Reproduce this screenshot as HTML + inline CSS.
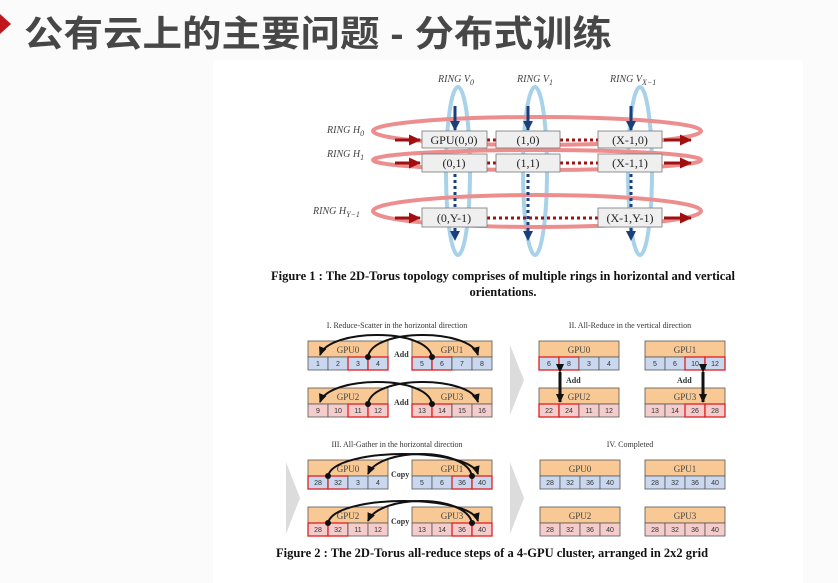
<!DOCTYPE html>
<html><head><meta charset="utf-8"><style>
html,body{margin:0;padding:0;background:#fff;width:838px;height:583px;overflow:hidden}
svg{display:block}
.t{font-family:"Liberation Sans","Noto Sans CJK SC",sans-serif;font-weight:bold;font-size:36px;fill:#474747}
.lab{font-family:"Liberation Serif",serif;font-style:italic;font-size:10px;fill:#444}
.bx{font-family:"Liberation Serif",serif;font-size:12px;fill:#222}
.cap{font-family:"Liberation Serif",serif;font-weight:bold;font-size:12.5px;fill:#111}
.sm{font-family:"Liberation Serif",serif;font-size:8px;fill:#333}
.g{font-family:"Liberation Serif",serif;font-size:9px;fill:#444}
.c{font-family:"Liberation Sans",sans-serif;font-size:7px;fill:#333}
</style></head><body>
<svg width="838" height="583" viewBox="0 0 838 583" xmlns="http://www.w3.org/2000/svg">
<defs>
<marker id="ar" markerUnits="userSpaceOnUse" markerWidth="14" markerHeight="14" refX="11" refY="7" orient="auto"><path d="M0,1.5 L12,7 L0,12.5z" fill="#a01010"/></marker>
<marker id="ab" markerUnits="userSpaceOnUse" markerWidth="12" markerHeight="12" refX="9" refY="6" orient="auto"><path d="M0,1 L10,6 L0,11z" fill="#1a3f7a"/></marker>
<marker id="ak" markerUnits="userSpaceOnUse" markerWidth="10" markerHeight="10" refX="8" refY="5" orient="auto"><path d="M0,1 L9,5 L0,9z" fill="#111"/></marker>
</defs>
<rect x="0" y="0" width="838" height="583" fill="#fbfbfb"/>
<rect x="213" y="60" width="590" height="523" fill="#fff"/>
<path d="M0,14 L11,24 L0,34z" fill="#c0161c"/>
<text class="t" x="24" y="46" textLength="588" lengthAdjust="spacingAndGlyphs">公有云上的主要问题 - 分布式训练</text>

<g fill="none" stroke="#a8d2ea" stroke-width="4">
<ellipse cx="458" cy="171" rx="12" ry="84"/>
<ellipse cx="535" cy="171" rx="12" ry="84"/>
<ellipse cx="640" cy="171" rx="12" ry="84"/>
</g>
<g fill="none" stroke="#ec8e8e" stroke-width="4">
<ellipse cx="537" cy="131" rx="164" ry="14"/>
<ellipse cx="537" cy="160" rx="164" ry="10"/>
<ellipse cx="537" cy="211" rx="164" ry="16"/>
</g>
<g stroke="#1a3f7a" stroke-width="3">
<line x1="455" y1="106" x2="455" y2="130" marker-end="url(#ab)"/>
<line x1="528" y1="106" x2="528" y2="130" marker-end="url(#ab)"/>
<line x1="631" y1="106" x2="631" y2="130" marker-end="url(#ab)"/>
<line x1="455" y1="174" x2="455" y2="240" stroke-dasharray="3,3" marker-end="url(#ab)"/>
<line x1="528" y1="174" x2="528" y2="240" stroke-dasharray="3,3" marker-end="url(#ab)"/>
<line x1="631" y1="174" x2="631" y2="240" stroke-dasharray="3,3" marker-end="url(#ab)"/>
</g>
<g stroke="#a01010" stroke-width="3">
<line x1="395" y1="140" x2="420" y2="140" marker-end="url(#ar)"/>
<line x1="395" y1="163" x2="420" y2="163" marker-end="url(#ar)"/>
<line x1="395" y1="218" x2="420" y2="218" marker-end="url(#ar)"/>
<line x1="664" y1="140" x2="691" y2="140" marker-end="url(#ar)"/>
<line x1="664" y1="163" x2="691" y2="163" marker-end="url(#ar)"/>
<line x1="664" y1="218" x2="691" y2="218" marker-end="url(#ar)"/>
<g stroke-dasharray="3,3">
<line x1="487" y1="140" x2="496" y2="140"/><line x1="560" y1="140" x2="598" y2="140"/>
<line x1="487" y1="163" x2="496" y2="163"/><line x1="560" y1="163" x2="598" y2="163"/>
<line x1="487" y1="218" x2="598" y2="218"/>
</g></g>
<g fill="#efefef" stroke="#777" stroke-width="0.8">
<rect x="422" y="131" width="65" height="17"/><rect x="496" y="131" width="64" height="17"/><rect x="598" y="131" width="64" height="17"/>
<rect x="422" y="154" width="65" height="18"/><rect x="496" y="154" width="64" height="18"/><rect x="598" y="154" width="64" height="18"/>
<rect x="422" y="208" width="65" height="19"/><rect x="598" y="208" width="64" height="19"/>
</g>
<g class="bx" text-anchor="middle">
<text x="454" y="144">GPU(0,0)</text><text x="528" y="144">(1,0)</text><text x="630" y="144">(X-1,0)</text>
<text x="454" y="167">(0,1)</text><text x="528" y="167">(1,1)</text><text x="630" y="167">(X-1,1)</text>
<text x="454" y="222">(0,Y-1)</text><text x="630" y="222">(X-1,Y-1)</text>
</g>
<g class="lab">
<text x="438" y="82">RING V<tspan font-size="8" dy="3">0</tspan></text>
<text x="517" y="82">RING V<tspan font-size="8" dy="3">1</tspan></text>
<text x="610" y="82">RING V<tspan font-size="8" dy="3">X−1</tspan></text>
<text x="327" y="133">RING H<tspan font-size="8" dy="3">0</tspan></text>
<text x="327" y="157">RING H<tspan font-size="8" dy="3">1</tspan></text>
<text x="313" y="214">RING H<tspan font-size="8" dy="3">Y−1</tspan></text>
</g>
<text class="cap" x="503" y="280" text-anchor="middle">Figure 1 : The 2D-Torus topology comprises of multiple rings in horizontal and vertical</text>
<text class="cap" x="503" y="296" text-anchor="middle">orientations.</text>

<g class="sm" text-anchor="middle">
<text x="397" y="328">I. Reduce-Scatter in the horizontal direction</text>
<text x="630" y="328">II. All-Reduce in the vertical direction</text>
<text x="397" y="447">III. All-Gather in the horizontal direction</text>
<text x="630" y="447">IV. Completed</text>
</g>
<g fill="#dcdcdc">
<path d="M510,345 L524,380 L510,415z"/>
<path d="M510,462 L524,498 L510,534z"/>
<path d="M286,462 L300,498 L286,534z"/>
</g>

<g stroke-width="0.8">
<g transform="translate(308,341)"><rect width="80" height="16" fill="#f9c995" stroke="#555"/><text class="g" x="40" y="12" text-anchor="middle">GPU0</text>
<rect y="16" width="20" height="13" fill="#c9d8ef" stroke="#555"/><rect x="20" y="16" width="20" height="13" fill="#c9d8ef" stroke="#555"/><rect x="40" y="16" width="20" height="13" fill="#c9d8ef" stroke="#e02020" stroke-width="1.3"/><rect x="60" y="16" width="20" height="13" fill="#c9d8ef" stroke="#e02020" stroke-width="1.3"/>
<g class="c" text-anchor="middle"><text x="10" y="25">1</text><text x="30" y="25">2</text><text x="50" y="25">3</text><text x="70" y="25">4</text></g></g>
<g transform="translate(412,341)"><rect width="80" height="16" fill="#f9c995" stroke="#555"/><text class="g" x="40" y="12" text-anchor="middle">GPU1</text>
<rect y="16" width="20" height="13" fill="#c9d8ef" stroke="#e02020" stroke-width="1.3"/><rect x="20" y="16" width="20" height="13" fill="#c9d8ef" stroke="#e02020" stroke-width="1.3"/><rect x="40" y="16" width="20" height="13" fill="#c9d8ef" stroke="#555"/><rect x="60" y="16" width="20" height="13" fill="#c9d8ef" stroke="#555"/>
<g class="c" text-anchor="middle"><text x="10" y="25">5</text><text x="30" y="25">6</text><text x="50" y="25">7</text><text x="70" y="25">8</text></g></g>
<g transform="translate(308,388)"><rect width="80" height="16" fill="#f9c995" stroke="#555"/><text class="g" x="40" y="12" text-anchor="middle">GPU2</text>
<rect y="16" width="20" height="13" fill="#f4cccc" stroke="#555"/><rect x="20" y="16" width="20" height="13" fill="#f4cccc" stroke="#555"/><rect x="40" y="16" width="20" height="13" fill="#f4cccc" stroke="#e02020" stroke-width="1.3"/><rect x="60" y="16" width="20" height="13" fill="#f4cccc" stroke="#e02020" stroke-width="1.3"/>
<g class="c" text-anchor="middle"><text x="10" y="25">9</text><text x="30" y="25">10</text><text x="50" y="25">11</text><text x="70" y="25">12</text></g></g>
<g transform="translate(412,388)"><rect width="80" height="16" fill="#f9c995" stroke="#555"/><text class="g" x="40" y="12" text-anchor="middle">GPU3</text>
<rect y="16" width="20" height="13" fill="#f4cccc" stroke="#e02020" stroke-width="1.3"/><rect x="20" y="16" width="20" height="13" fill="#f4cccc" stroke="#e02020" stroke-width="1.3"/><rect x="40" y="16" width="20" height="13" fill="#f4cccc" stroke="#555"/><rect x="60" y="16" width="20" height="13" fill="#f4cccc" stroke="#555"/>
<g class="c" text-anchor="middle"><text x="10" y="25">13</text><text x="30" y="25">14</text><text x="50" y="25">15</text><text x="70" y="25">16</text></g></g>

<g transform="translate(539,341)"><rect width="80" height="16" fill="#f9c995" stroke="#555"/><text class="g" x="40" y="12" text-anchor="middle">GPU0</text>
<rect y="16" width="20" height="13" fill="#c9d8ef" stroke="#e02020" stroke-width="1.3"/><rect x="20" y="16" width="20" height="13" fill="#c9d8ef" stroke="#e02020" stroke-width="1.3"/><rect x="40" y="16" width="20" height="13" fill="#c9d8ef" stroke="#555"/><rect x="60" y="16" width="20" height="13" fill="#c9d8ef" stroke="#555"/>
<g class="c" text-anchor="middle"><text x="10" y="25">6</text><text x="30" y="25">8</text><text x="50" y="25">3</text><text x="70" y="25">4</text></g></g>
<g transform="translate(645,341)"><rect width="80" height="16" fill="#f9c995" stroke="#555"/><text class="g" x="40" y="12" text-anchor="middle">GPU1</text>
<rect y="16" width="20" height="13" fill="#c9d8ef" stroke="#555"/><rect x="20" y="16" width="20" height="13" fill="#c9d8ef" stroke="#555"/><rect x="40" y="16" width="20" height="13" fill="#c9d8ef" stroke="#e02020" stroke-width="1.3"/><rect x="60" y="16" width="20" height="13" fill="#c9d8ef" stroke="#e02020" stroke-width="1.3"/>
<g class="c" text-anchor="middle"><text x="10" y="25">5</text><text x="30" y="25">6</text><text x="50" y="25">10</text><text x="70" y="25">12</text></g></g>
<g transform="translate(539,388)"><rect width="80" height="16" fill="#f9c995" stroke="#555"/><text class="g" x="40" y="12" text-anchor="middle">GPU2</text>
<rect y="16" width="20" height="13" fill="#f4cccc" stroke="#e02020" stroke-width="1.3"/><rect x="20" y="16" width="20" height="13" fill="#f4cccc" stroke="#e02020" stroke-width="1.3"/><rect x="40" y="16" width="20" height="13" fill="#f4cccc" stroke="#555"/><rect x="60" y="16" width="20" height="13" fill="#f4cccc" stroke="#555"/>
<g class="c" text-anchor="middle"><text x="10" y="25">22</text><text x="30" y="25">24</text><text x="50" y="25">11</text><text x="70" y="25">12</text></g></g>
<g transform="translate(645,388)"><rect width="80" height="16" fill="#f9c995" stroke="#555"/><text class="g" x="40" y="12" text-anchor="middle">GPU3</text>
<rect y="16" width="20" height="13" fill="#f4cccc" stroke="#555"/><rect x="20" y="16" width="20" height="13" fill="#f4cccc" stroke="#555"/><rect x="40" y="16" width="20" height="13" fill="#f4cccc" stroke="#e02020" stroke-width="1.3"/><rect x="60" y="16" width="20" height="13" fill="#f4cccc" stroke="#e02020" stroke-width="1.3"/>
<g class="c" text-anchor="middle"><text x="10" y="25">13</text><text x="30" y="25">14</text><text x="50" y="25">26</text><text x="70" y="25">28</text></g></g>

<g transform="translate(308,460)"><rect width="80" height="16" fill="#f9c995" stroke="#555"/><text class="g" x="40" y="12" text-anchor="middle">GPU0</text>
<rect y="16" width="20" height="13" fill="#c9d8ef" stroke="#e02020" stroke-width="1.3"/><rect x="20" y="16" width="20" height="13" fill="#c9d8ef" stroke="#e02020" stroke-width="1.3"/><rect x="40" y="16" width="20" height="13" fill="#c9d8ef" stroke="#555"/><rect x="60" y="16" width="20" height="13" fill="#c9d8ef" stroke="#555"/>
<g class="c" text-anchor="middle"><text x="10" y="25">28</text><text x="30" y="25">32</text><text x="50" y="25">3</text><text x="70" y="25">4</text></g></g>
<g transform="translate(412,460)"><rect width="80" height="16" fill="#f9c995" stroke="#555"/><text class="g" x="40" y="12" text-anchor="middle">GPU1</text>
<rect y="16" width="20" height="13" fill="#c9d8ef" stroke="#555"/><rect x="20" y="16" width="20" height="13" fill="#c9d8ef" stroke="#555"/><rect x="40" y="16" width="20" height="13" fill="#c9d8ef" stroke="#e02020" stroke-width="1.3"/><rect x="60" y="16" width="20" height="13" fill="#c9d8ef" stroke="#e02020" stroke-width="1.3"/>
<g class="c" text-anchor="middle"><text x="10" y="25">5</text><text x="30" y="25">6</text><text x="50" y="25">36</text><text x="70" y="25">40</text></g></g>
<g transform="translate(308,507)"><rect width="80" height="16" fill="#f9c995" stroke="#555"/><text class="g" x="40" y="12" text-anchor="middle">GPU2</text>
<rect y="16" width="20" height="13" fill="#f4cccc" stroke="#e02020" stroke-width="1.3"/><rect x="20" y="16" width="20" height="13" fill="#f4cccc" stroke="#e02020" stroke-width="1.3"/><rect x="40" y="16" width="20" height="13" fill="#f4cccc" stroke="#555"/><rect x="60" y="16" width="20" height="13" fill="#f4cccc" stroke="#555"/>
<g class="c" text-anchor="middle"><text x="10" y="25">28</text><text x="30" y="25">32</text><text x="50" y="25">11</text><text x="70" y="25">12</text></g></g>
<g transform="translate(412,507)"><rect width="80" height="16" fill="#f9c995" stroke="#555"/><text class="g" x="40" y="12" text-anchor="middle">GPU3</text>
<rect y="16" width="20" height="13" fill="#f4cccc" stroke="#555"/><rect x="20" y="16" width="20" height="13" fill="#f4cccc" stroke="#555"/><rect x="40" y="16" width="20" height="13" fill="#f4cccc" stroke="#e02020" stroke-width="1.3"/><rect x="60" y="16" width="20" height="13" fill="#f4cccc" stroke="#e02020" stroke-width="1.3"/>
<g class="c" text-anchor="middle"><text x="10" y="25">13</text><text x="30" y="25">14</text><text x="50" y="25">36</text><text x="70" y="25">40</text></g></g>

<g transform="translate(540,460)"><rect width="80" height="16" fill="#f9c995" stroke="#555"/><text class="g" x="40" y="12" text-anchor="middle">GPU0</text>
<rect y="16" width="20" height="13" fill="#c9d8ef" stroke="#555"/><rect x="20" y="16" width="20" height="13" fill="#c9d8ef" stroke="#555"/><rect x="40" y="16" width="20" height="13" fill="#c9d8ef" stroke="#555"/><rect x="60" y="16" width="20" height="13" fill="#c9d8ef" stroke="#555"/>
<g class="c" text-anchor="middle"><text x="10" y="25">28</text><text x="30" y="25">32</text><text x="50" y="25">36</text><text x="70" y="25">40</text></g></g>
<g transform="translate(645,460)"><rect width="80" height="16" fill="#f9c995" stroke="#555"/><text class="g" x="40" y="12" text-anchor="middle">GPU1</text>
<rect y="16" width="20" height="13" fill="#c9d8ef" stroke="#555"/><rect x="20" y="16" width="20" height="13" fill="#c9d8ef" stroke="#555"/><rect x="40" y="16" width="20" height="13" fill="#c9d8ef" stroke="#555"/><rect x="60" y="16" width="20" height="13" fill="#c9d8ef" stroke="#555"/>
<g class="c" text-anchor="middle"><text x="10" y="25">28</text><text x="30" y="25">32</text><text x="50" y="25">36</text><text x="70" y="25">40</text></g></g>
<g transform="translate(540,507)"><rect width="80" height="16" fill="#f9c995" stroke="#555"/><text class="g" x="40" y="12" text-anchor="middle">GPU2</text>
<rect y="16" width="20" height="13" fill="#f4cccc" stroke="#555"/><rect x="20" y="16" width="20" height="13" fill="#f4cccc" stroke="#555"/><rect x="40" y="16" width="20" height="13" fill="#f4cccc" stroke="#555"/><rect x="60" y="16" width="20" height="13" fill="#f4cccc" stroke="#555"/>
<g class="c" text-anchor="middle"><text x="10" y="25">28</text><text x="30" y="25">32</text><text x="50" y="25">36</text><text x="70" y="25">40</text></g></g>
<g transform="translate(645,507)"><rect width="80" height="16" fill="#f9c995" stroke="#555"/><text class="g" x="40" y="12" text-anchor="middle">GPU3</text>
<rect y="16" width="20" height="13" fill="#f4cccc" stroke="#555"/><rect x="20" y="16" width="20" height="13" fill="#f4cccc" stroke="#555"/><rect x="40" y="16" width="20" height="13" fill="#f4cccc" stroke="#555"/><rect x="60" y="16" width="20" height="13" fill="#f4cccc" stroke="#555"/>
<g class="c" text-anchor="middle"><text x="10" y="25">28</text><text x="30" y="25">32</text><text x="50" y="25">36</text><text x="70" y="25">40</text></g></g>
</g>

<g fill="none" stroke="#111" stroke-width="2">
<path d="M368,357 C372,328 470,328 478,355" marker-end="url(#ak)"/>
<path d="M432,357 C428,328 330,328 320,355" marker-end="url(#ak)"/>
<path d="M368,404 C372,375 470,375 478,402" marker-end="url(#ak)"/>
<path d="M432,404 C428,375 330,375 320,402" marker-end="url(#ak)"/>
<path d="M328,476 C334,447 470,447 478,474" marker-end="url(#ak)"/>
<path d="M472,476 C466,447 380,447 368,474" marker-end="url(#ak)"/>
<path d="M328,523 C334,494 470,494 478,521" marker-end="url(#ak)"/>
<path d="M472,523 C466,494 380,494 368,521" marker-end="url(#ak)"/>
</g>
<g fill="#111">
<circle cx="368" cy="357" r="3"/><circle cx="432" cy="357" r="3"/>
<circle cx="368" cy="404" r="3"/><circle cx="432" cy="404" r="3"/>
<circle cx="328" cy="476" r="3"/><circle cx="472" cy="476" r="3"/>
<circle cx="328" cy="523" r="3"/><circle cx="472" cy="523" r="3"/>
</g>
<g stroke="#111" stroke-width="3">
<line x1="560" y1="372" x2="560" y2="402" marker-start="url(#ak)" marker-end="url(#ak)"/>
<line x1="703" y1="372" x2="703" y2="402" marker-start="url(#ak)" marker-end="url(#ak)"/>
</g>
<g class="sm" font-weight="bold">
<text x="394" y="357">Add</text><text x="394" y="405">Add</text>
<text x="566" y="383">Add</text><text x="677" y="383">Add</text>
<text x="391" y="477">Copy</text><text x="391" y="524">Copy</text>
</g>
<text class="cap" x="492" y="557" text-anchor="middle">Figure 2 : The 2D-Torus all-reduce steps of a 4-GPU cluster, arranged in 2x2 grid</text>
</svg>
</body></html>
